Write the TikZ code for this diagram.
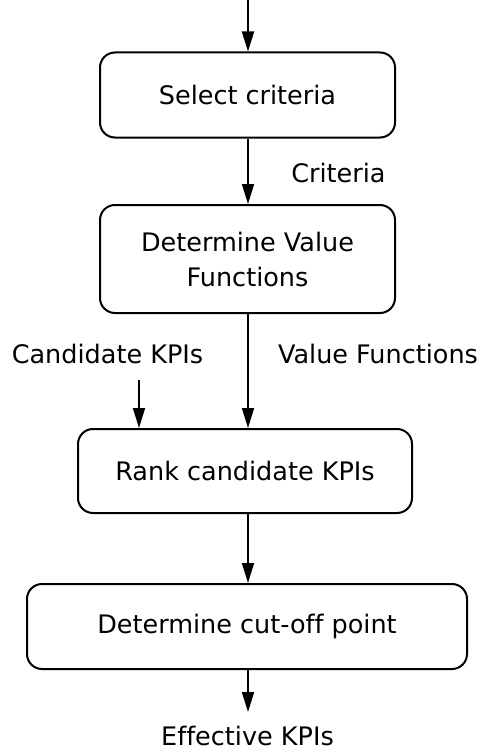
\documentclass[tikz,border=0pt]{standalone}
\usepackage{fontspec}
\setmainfont{DejaVu Sans}[Ligatures=NoCommon]
\usetikzlibrary{arrows.meta}
\begin{document}
\begin{tikzpicture}[x=1pt,y=-1pt,
  font=\fontsize{25.5}{35}\selectfont,
  stepbox/.style={draw, line width=2pt, rounded corners=15pt, inner sep=0pt, align=center},
  flow/.style={line width=1.8pt, -{Triangle[length=20pt,width=12pt]}},
  lbl/.style={inner sep=0pt, anchor=center}]
\useasboundingbox (0,0) rectangle (480,752);
% process steps
\node[stepbox, minimum width=295pt, minimum height=85pt] (sel) at (247.5,95) {Select criteria};
\node[stepbox, minimum width=295pt, minimum height=108pt] (dvf) at (247.5,259) {Determine Value\\Functions};
\node[stepbox, minimum width=334pt, minimum height=84pt] (rank) at (245,471) {Rank candidate KPIs};
\node[stepbox, minimum width=440pt, minimum height=85pt] (cut) at (247,626.5) {Determine cut-off point};
% inputs, outputs and labels
\coordinate (in) at (248,0);
\coordinate (cand) at (139,380);
\coordinate (out) at (248,712);
\node[lbl] (crit) at (338.5,173) {Criteria};
\node[lbl] (candlbl) at (107.5,354) {Candidate KPIs};
\node[lbl] (vflbl) at (378,354) {Value Functions};
\node[lbl] (eff) at (247.5,736) {Effective KPIs};
% connectors
\draw[flow] (in) -- (sel.north -| in);
\draw[flow] (sel.south -| in) -- (dvf.north -| in);
\draw[flow] (dvf.south -| in) -- (rank.north -| in);
\draw[flow] (cand) -- (rank.north -| cand);
\draw[flow] (rank.south -| in) -- (cut.north -| in);
\draw[flow] (cut.south -| in) -- (out);
\end{tikzpicture}
\end{document}
